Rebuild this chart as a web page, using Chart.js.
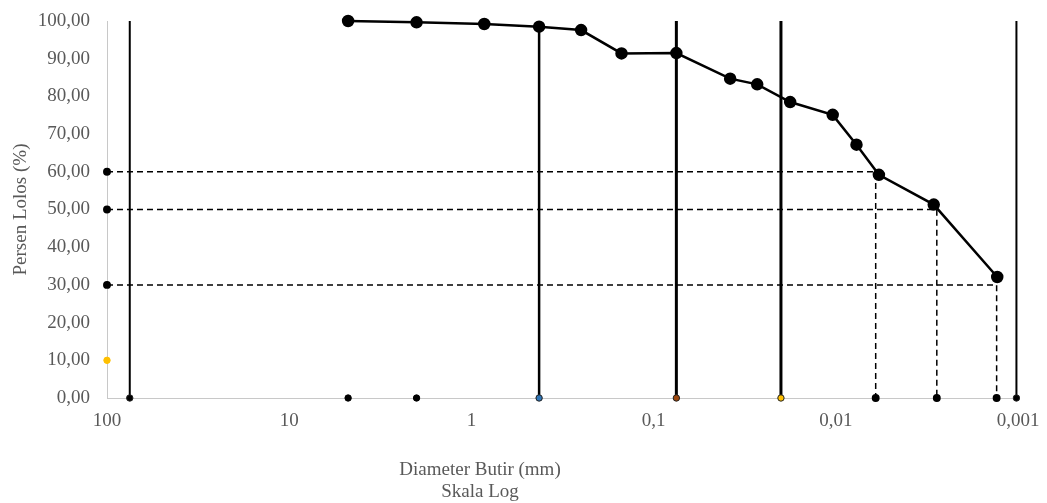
<!DOCTYPE html>
<html>
<head>
<meta charset="utf-8">
<script src="https://cdn.jsdelivr.net/npm/chart.js@4.4.1/dist/chart.umd.min.js"></script>
<style>
html,body{margin:0;padding:0;background:#fff;}
#wrap{width:1047px;height:503px;position:relative;}
</style>
</head>
<body>
<div id="wrap"><canvas id="c" width="1047" height="503"></canvas></div>
<script>
// Grain size distribution (sieve + hydrometer)
const grainSizes = [4.75, 2.0, 0.85, 0.425, 0.25, 0.15, 0.075, 0.038, 0.027, 0.0178, 0.0104, 0.0077, 0.0058, 0.0029, 0.0013];
const percentPassing = [100, 99.65, 99.2, 98.5, 97.6, 91.4, 91.5, 84.7, 83.2, 78.5, 75.1, 67.2, 59.2, 51.3, 32.1];

// Soil class boundary lines (mm) and their top values (%)
const boundarySizes = [75, 0.425, 0.075, 0.02, 0.00102];
const boundaryTops = [100, 98.5, 100, 100, 100];

// D60, D50, D30 reading lines
const dLevels = [60, 50, 30];
const dSizes = [0.00604, 0.00279, 0.00131];

// Extra marker points on axes
const axisDotSizes = [4.75, 2.0];
const axisDotValues = [0, 0];
const yAxisDotSize = [100];
const yAxisDotValue = [10];

// Ticks
const xTickValues = [100, 10, 1, 0.1, 0.01, 0.001];
const xTickLabels = ['100', '10', '1', '0,1', '0,01', '0,001'];

const xTitle = ['Diameter Butir (mm)', 'Skala Log'];
const yTitle = 'Persen Lolos (%)';

const FONT = "'Times New Roman', 'Liberation Serif', serif";
const GREY = '#595959';

const datasets = [];
datasets.push({
  label: 'Gradasi',
  data: grainSizes.map((x, i) => ({x, y: percentPassing[i]})),
  borderColor: '#000', backgroundColor: '#000',
  borderWidth: 2.5, pointRadius: 5, pointHoverRadius: 5,
  pointBackgroundColor: '#000', pointBorderColor: '#000', tension: 0, clip: false
});
const bColors = ['#000', '#2e75b6', '#9e480e', '#ffc000', '#000'];
const bWidths = [2, 2.5, 3, 3, 2];
boundarySizes.forEach((s, i) => {
  datasets.push({
    label: 'Batas ' + s,
    data: [{x: s, y: 0}, {x: s, y: boundaryTops[i]}],
    borderColor: '#000', borderWidth: bWidths[i],
    pointRadius: [3.2, 0], pointBackgroundColor: bColors[i], pointBorderColor: '#222', pointBorderWidth: 1,
    clip: false
  });
});
dLevels.forEach((lv, i) => {
  datasets.push({
    label: 'D' + lv,
    data: [{x: 100, y: lv}, {x: dSizes[i], y: lv}, {x: dSizes[i], y: 0}],
    borderColor: '#000', borderWidth: 1.5, borderDash: [6, 4],
    pointRadius: [3.2, 0, 3.2], pointBackgroundColor: '#000', pointBorderColor: '#000',
    clip: false
  });
});
datasets.push({
  label: 'dots',
  data: axisDotSizes.map((x, i) => ({x, y: axisDotValues[i]})),
  showLine: false, pointRadius: 3.2, pointBackgroundColor: '#000', pointBorderColor: '#000', clip: false
});
datasets.push({
  label: 'ydot',
  data: yAxisDotSize.map((x, i) => ({x, y: yAxisDotValue[i]})),
  showLine: false, pointRadius: 3.2, pointBackgroundColor: '#ffc000', pointBorderColor: '#ffc000', clip: false
});

const axisTitlePlugin = {
  id: 'axisTitle',
  afterDraw(chart) {
    const ctx = chart.ctx;
    ctx.save();
    ctx.fillStyle = GREY;
    ctx.font = '19px ' + FONT;
    ctx.textAlign = 'center';
    ctx.textBaseline = 'middle';
    ctx.fillText(xTitle[0], 480, 470);
    ctx.fillText(xTitle[1], 480, 492);
    ctx.restore();
  }
};

new Chart(document.getElementById('c'), {
  type: 'scatter',
  data: {datasets},
  plugins: [axisTitlePlugin],
  options: {
    responsive: false, animation: false,
    showLine: true,
    layout: {padding: {left: 0, right: 29, top: 21, bottom: 0}},
    plugins: {legend: {display: false}, tooltip: {enabled: false}},
    scales: {
      x: {
        type: 'logarithmic', reverse: true, min: 0.001, max: 100,
        afterBuildTicks(scale) { scale.ticks = xTickValues.map(v => ({value: v})); },
        afterFit(scale) { scale.height = 105; scale.paddingLeft = 0; scale.paddingRight = 0; },
        ticks: {
          autoSkip: false, maxRotation: 0, padding: 12, color: GREY,
          font: {family: FONT, size: 19},
          callback: (v, i) => xTickLabels[i]
        },
        grid: {display: false, drawTicks: false},
        border: {color: '#c8c8c8', width: 1}
      },
      y: {
        min: 0, max: 100,
        afterFit(scale) { scale.width = 107; scale.paddingTop = 0; scale.paddingBottom = 0; },
        ticks: {
          stepSize: 10, padding: 17, color: GREY,
          font: {family: FONT, size: 19},
          callback: v => v.toFixed(2).replace('.', ',')
        },
        title: {display: true, text: yTitle, color: GREY, font: {family: FONT, size: 19}, padding: {top: 10, bottom: 0}},
        grid: {display: false, drawTicks: false},
        border: {color: '#c8c8c8', width: 1}
      }
    }
  }
});
</script>
</body>
</html>
